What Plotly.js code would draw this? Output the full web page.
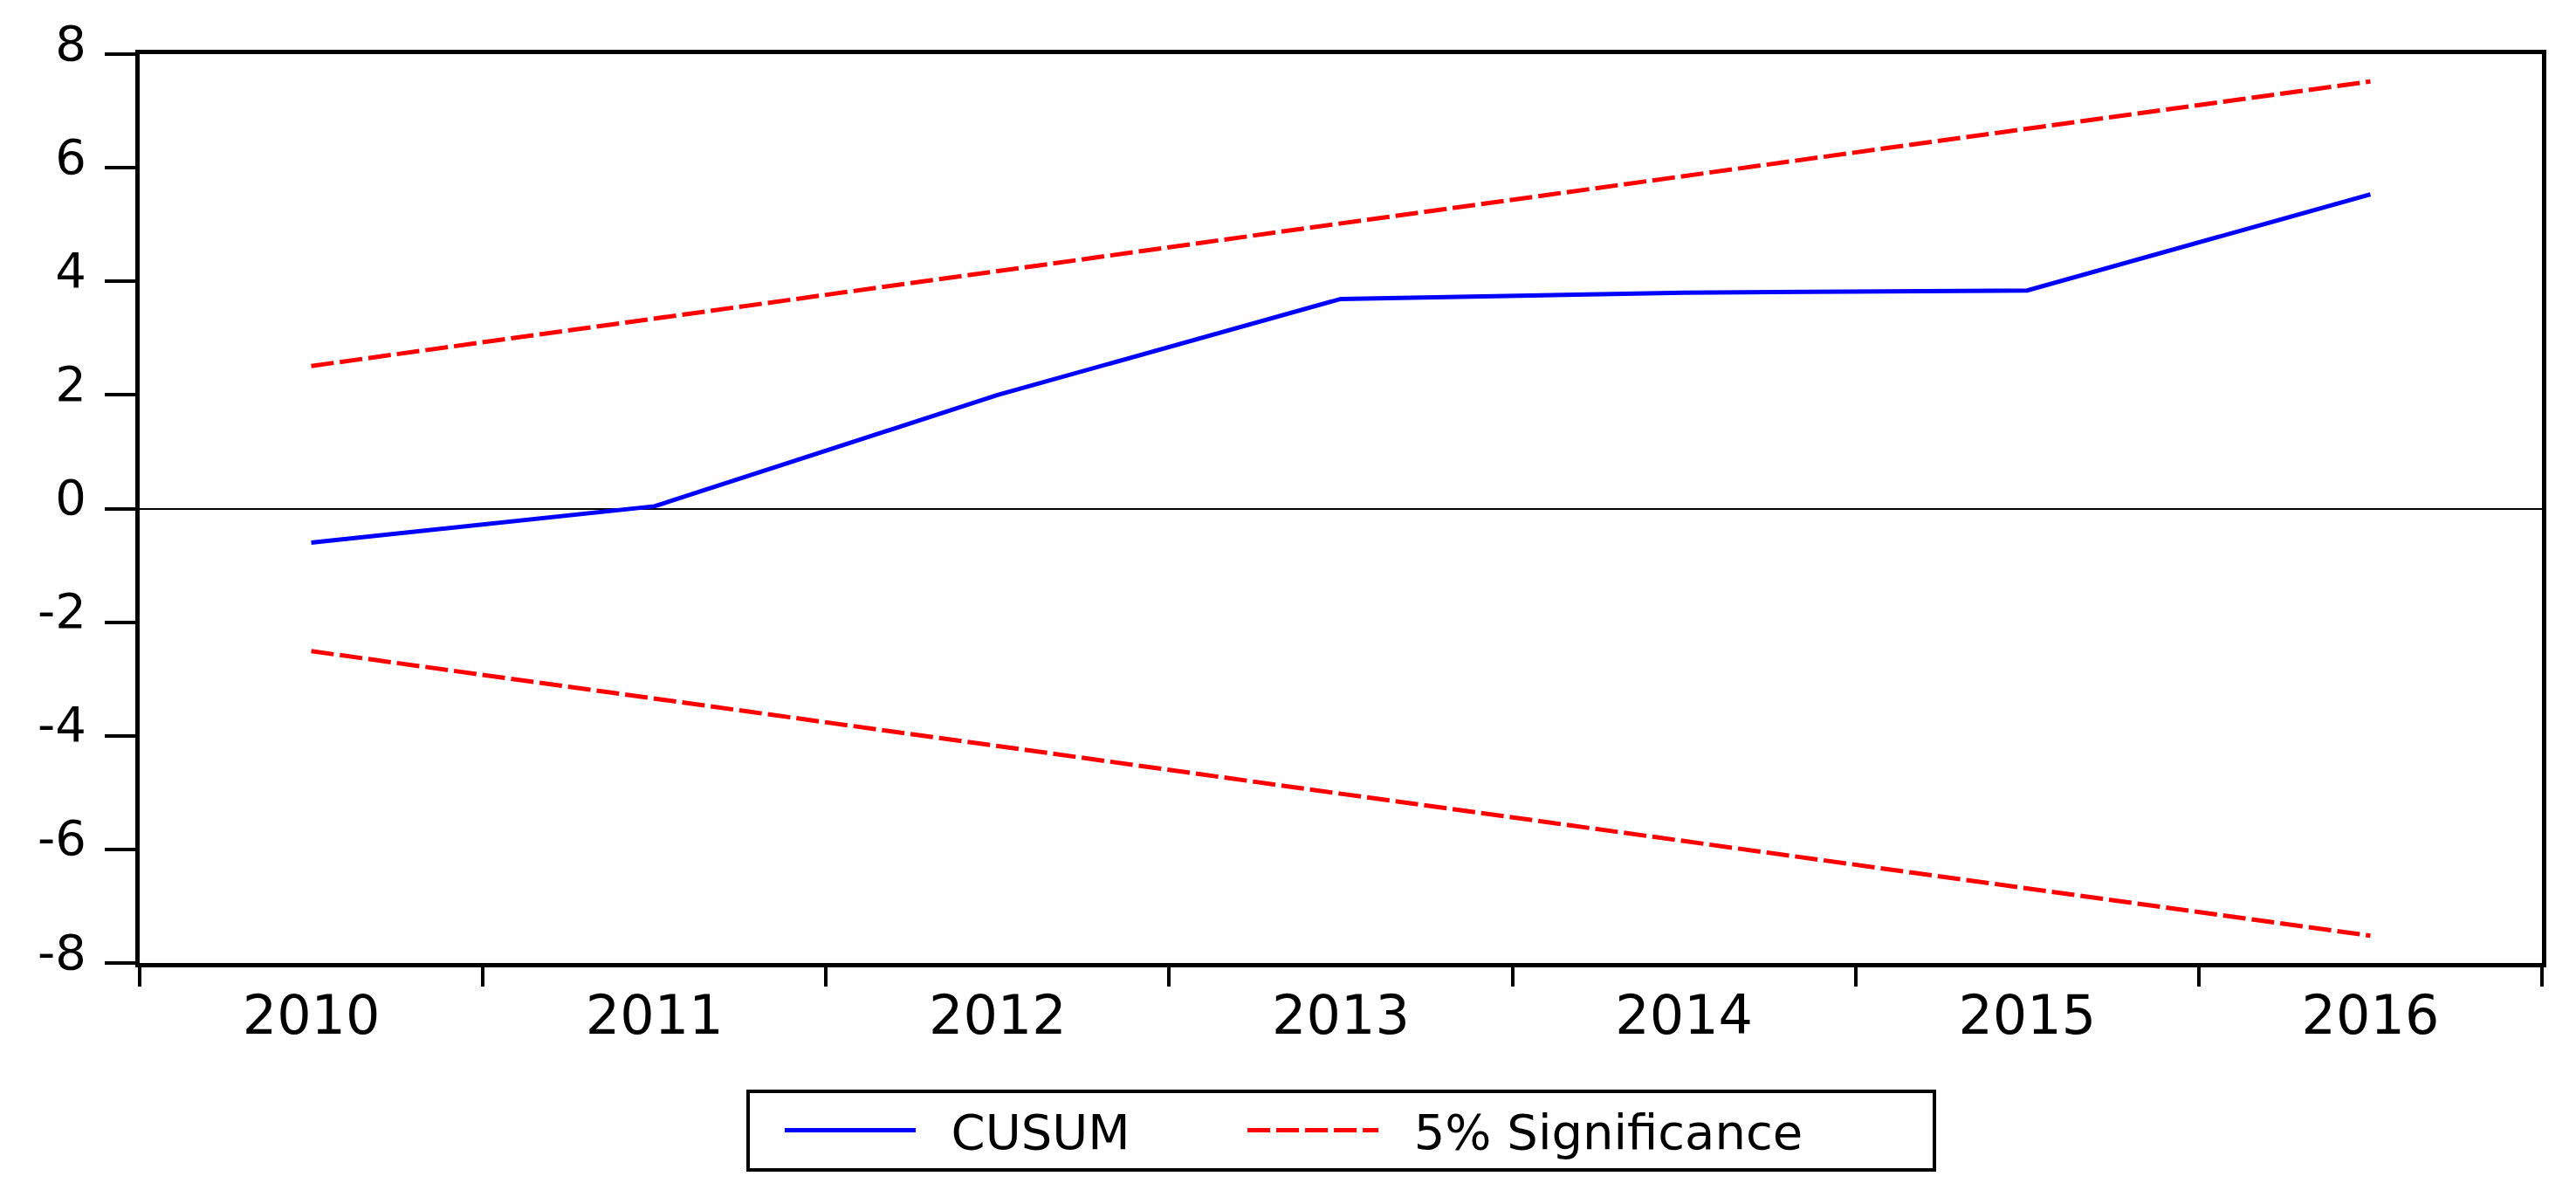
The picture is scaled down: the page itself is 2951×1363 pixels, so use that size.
<!DOCTYPE html>
<html>
<head>
<meta charset="utf-8">
<script src="https://cdn.plot.ly/plotly-3.0.1.min.js"></script>
<style>
  html, body { margin: 0; padding: 0; background: #ffffff; }
  #chart { width: 2951px; height: 1363px; }
</style>
</head>
<body>
<div id="chart"></div>
<script>
// Data
var years = [2010, 2011, 2012, 2013, 2014, 2015, 2016];
var yearLabels = ['2010', '2011', '2012', '2013', '2014', '2015', '2016'];
var cusum = [-0.60, 0.04, 2.00, 3.69, 3.80, 3.84, 5.53];
var upper5 = [2.51, 3.34, 4.18, 5.02, 5.85, 6.69, 7.52];
var lower5 = [-2.51, -3.34, -4.18, -5.02, -5.85, -6.69, -7.52];
var yTicks = [-8, -6, -4, -2, 0, 2, 4, 6, 8];
var yTickLabels = ['-8', '-6', '-4', '-2', '0', '2', '4', '6', '8'];
var yearEdges = [2009.5, 2010.5, 2011.5, 2012.5, 2013.5, 2014.5, 2015.5, 2016.5];
var seriesNames = ['CUSUM', '5% Significance'];

var FONT = 'DejaVu Sans, Arial, sans-serif';
function pad(n) { return new Array(n + 1).join('\u00a0'); }

var traces = [
  {
    x: years, y: cusum, name: pad(2) + seriesNames[0] + pad(7), type: 'scatter', mode: 'lines',
    line: { color: '#0000ff', width: 5 }
  },
  {
    x: years, y: upper5, name: pad(2) + seriesNames[1] + pad(8), type: 'scatter', mode: 'lines',
    line: { color: '#ff0000', width: 5, dash: '26px,7px' }
  },
  {
    x: years, y: lower5, name: seriesNames[1], type: 'scatter', mode: 'lines',
    xaxis: 'x2', showlegend: false,
    line: { color: '#ff0000', width: 5, dash: '26px,7px' }
  }
];

var layout = {
  width: 2951, height: 1363,
  paper_bgcolor: '#ffffff', plot_bgcolor: '#ffffff',
  margin: { l: 160, r: 39, t: 62, b: 260, pad: 0 },
  font: { family: FONT, color: '#000000', size: 50 },
  showlegend: true,
  xaxis: {
    range: [2009.5, 2016.5],
    tickmode: 'array', tickvals: yearEdges,
    showticklabels: false,
    ticks: 'outside', ticklen: 22, tickwidth: 4, tickcolor: '#000000',
    showline: true, linecolor: '#000000', linewidth: 5, mirror: true,
    showgrid: false, zeroline: false
  },
  xaxis2: {
    overlaying: 'x', anchor: 'y', side: 'bottom',
    range: [2009.5, 2016.5],
    tickmode: 'array', tickvals: years, ticktext: yearLabels,
    ticks: '', showline: false, showgrid: false, zeroline: false,
    ticklabelstandoff: 18,
    tickfont: { family: FONT, size: 62, color: '#000000' }
  },
  yaxis: {
    range: [-8, 8],
    tickmode: 'array', tickvals: yTicks, ticktext: yTickLabels,
    ticks: 'outside', ticklen: 35, tickwidth: 4, tickcolor: '#000000',
    ticklabelstandoff: 10, ticklabelshift: -13,
    tickfont: { family: FONT, size: 56, color: '#000000' },
    showline: true, linecolor: '#000000', linewidth: 5, mirror: true,
    showgrid: false,
    zeroline: true, zerolinecolor: '#000000', zerolinewidth: 2
  },
  legend: {
    orientation: 'h',
    x: 0.5, xanchor: 'center',
    y: -0.139, yanchor: 'top',
    bordercolor: '#000000', borderwidth: 4,
    bgcolor: '#ffffff',
    itemwidth: 150,
    title: { text: pad(2), side: 'left', font: { family: FONT, size: 40 } },
    font: { family: FONT, size: 56, color: '#000000' }
  }
};

Plotly.newPlot('chart', traces, layout, { displayModeBar: false, staticPlot: true });
</script>
</body>
</html>
